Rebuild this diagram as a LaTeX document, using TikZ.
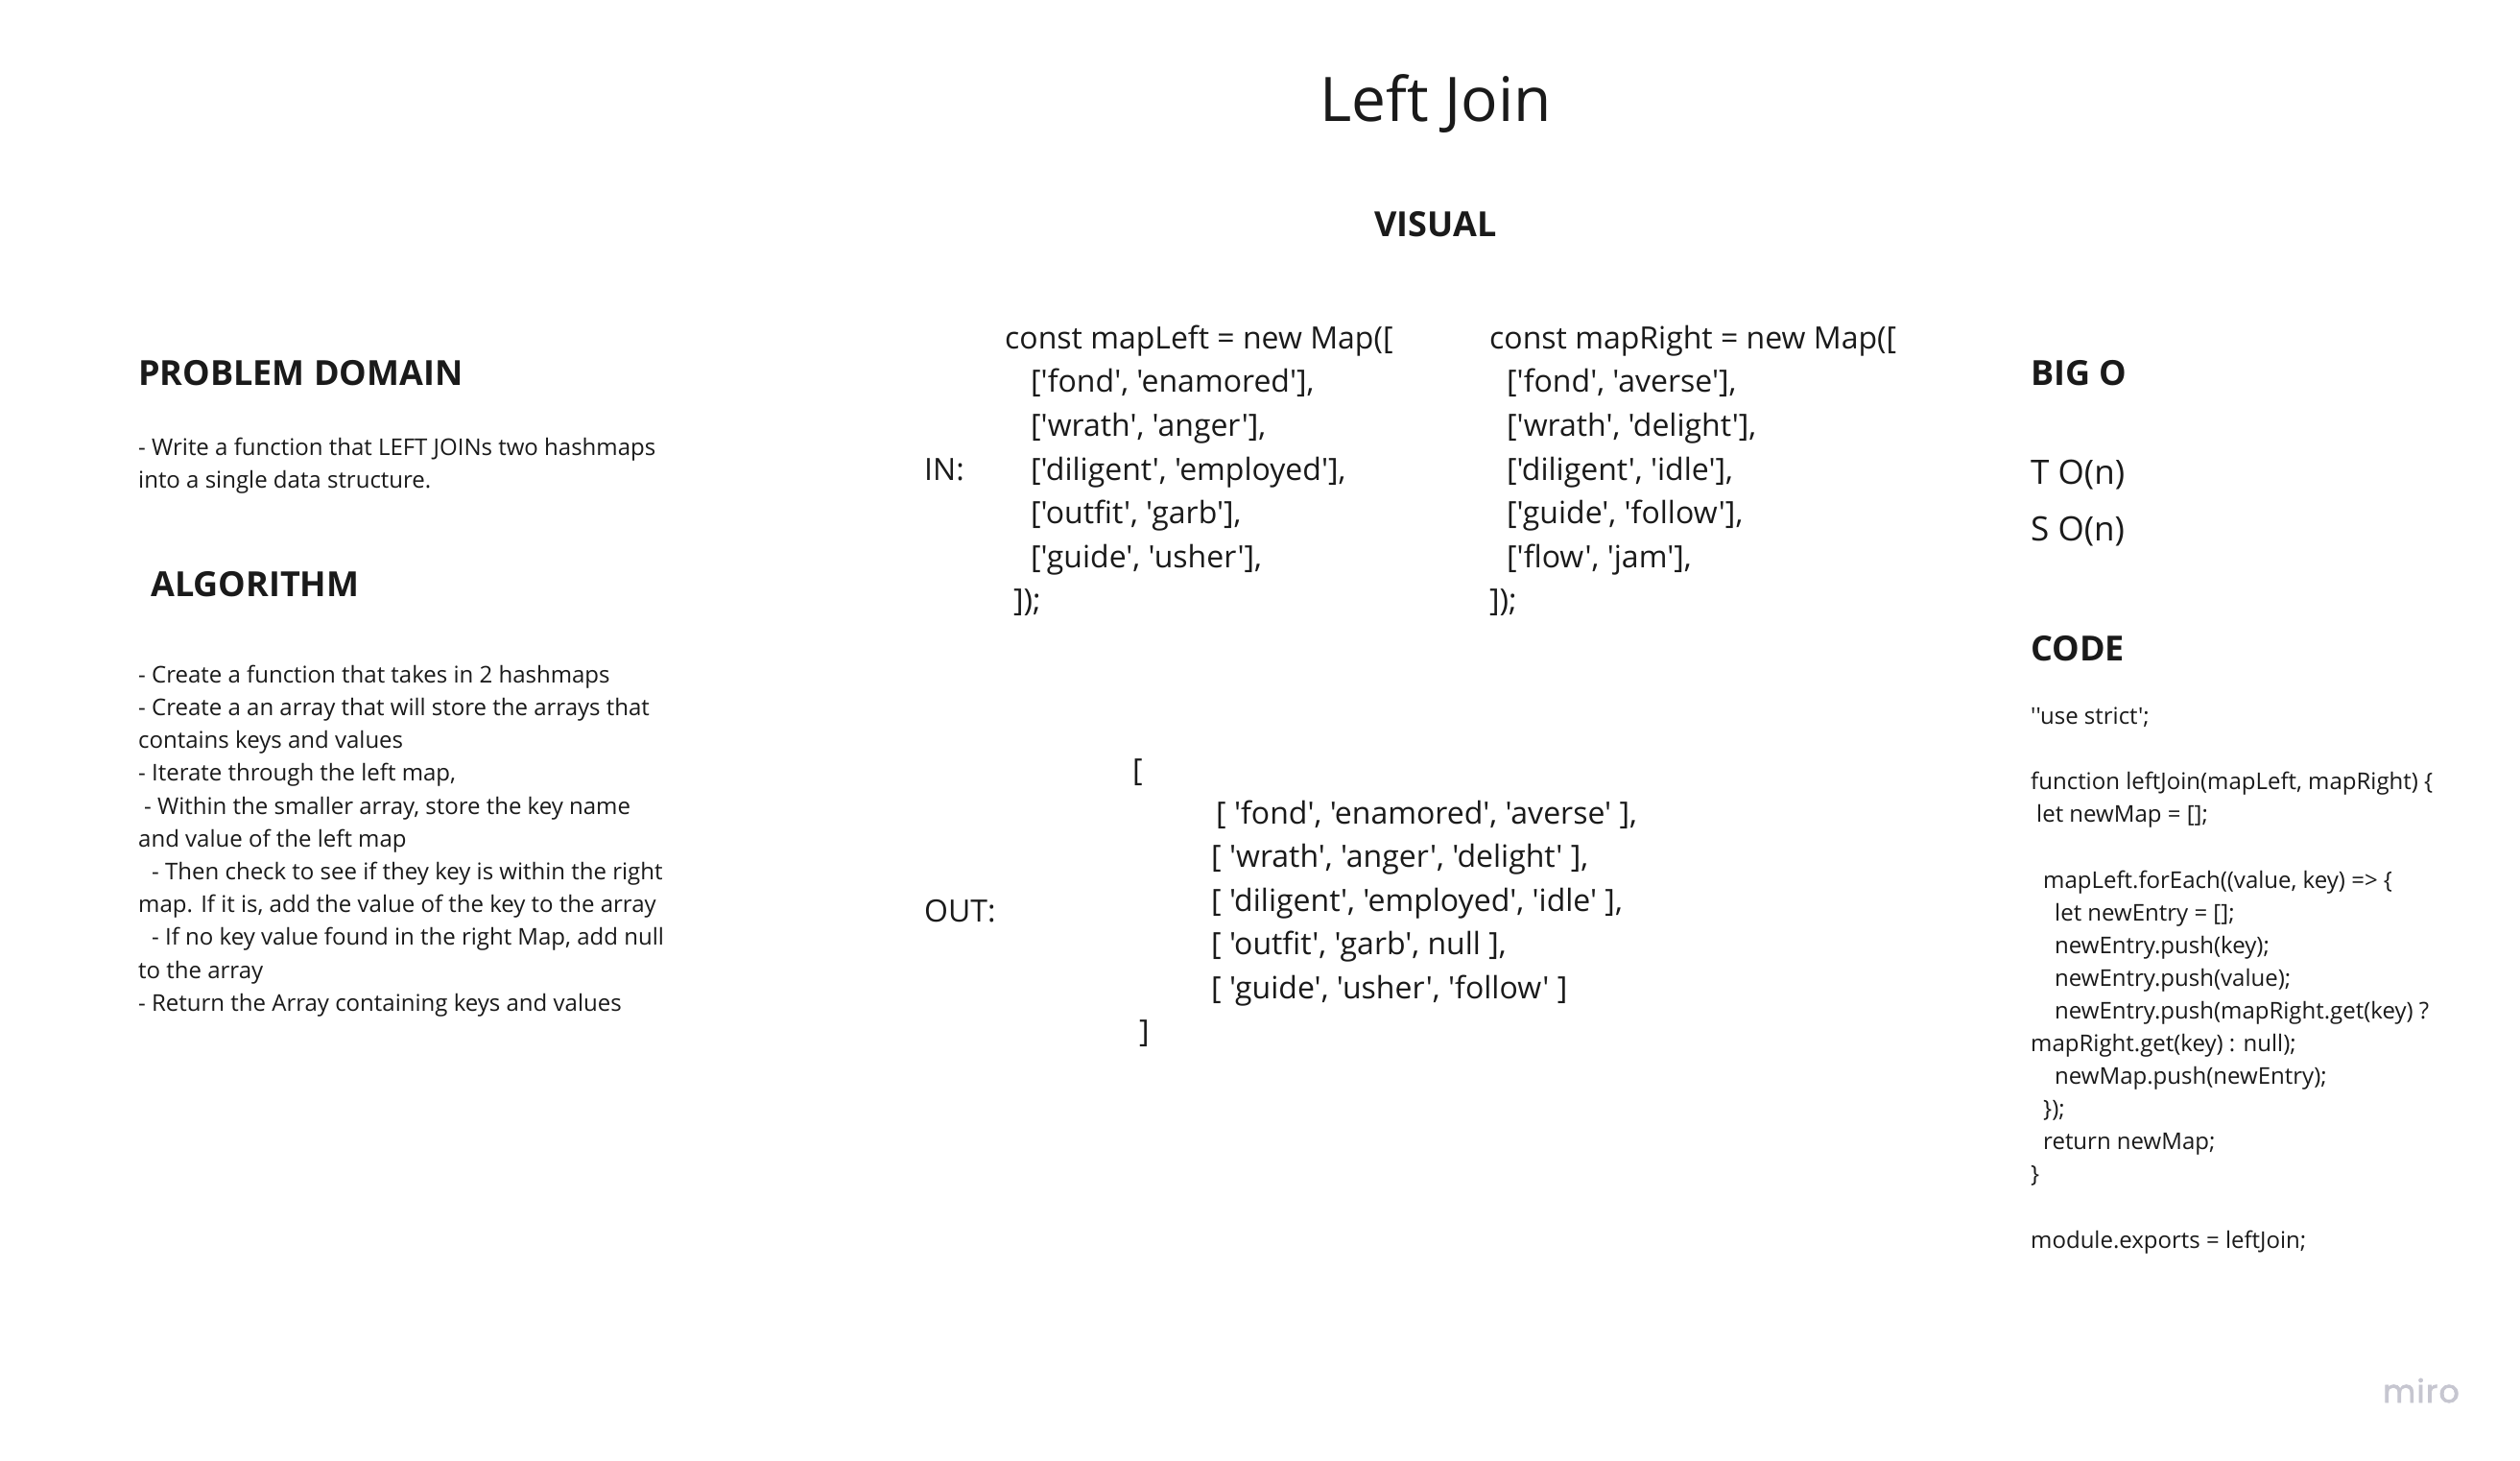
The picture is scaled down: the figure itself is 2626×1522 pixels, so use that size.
\documentclass[tikz,border=0pt]{standalone}
\usepackage{fontspec}
\setmainfont{Open Sans}[Ligatures=TeXOff]
\newfontfamily\mirofont{Poppins}[Ligatures=TeXOff, FakeBold=2.2, LetterSpace=4]

\definecolor{ink}{HTML}{1A1A1A}
\definecolor{mirogray}{HTML}{C6C6D0}

\begin{document}
\begin{tikzpicture}[x=1pt, y=-1pt,
        every node/.style={inner sep=0pt, text=ink, anchor=base west},
        bigtitle/.style={font=\fontsize{64}{70}\selectfont, anchor=base},
        headtext/.style={font=\fontsize{36}{40}\selectfont\bfseries},
        bodytext/.style={font=\fontsize{24}{30}\selectfont},
        maptext/.style={font=\fontsize{32}{38}\selectfont},
        bigotext/.style={font=\fontsize{35}{40}\selectfont}]
        \fill[white] (0,0) rectangle (2626,1522);
        \useasboundingbox (0,0) rectangle (2626,1522);

        \node[bigtitle] (title) at (1496,127) {Left Join};
        \node[headtext, anchor=base] (visual) at (1496,247) {VISUAL};

        \node[headtext] (domain) at (144,401) {PROBLEM DOMAIN};
        \node[bodytext] (dom1) at (144,474) {- Write a function that LEFT JOINs two hashmaps};
        \node[bodytext] (dom2) at (144,508) {into a single data structure.};

        \node[headtext] (algo) at (157,621) {ALGORITHM};
        \node[bodytext] (alg1) at (144,711) {- Create a function that takes in 2 hashmaps};
        \node[bodytext] (alg2) at (144,745) {- Create a an array that will store the arrays that};
        \node[bodytext] (alg3) at (144,779) {contains keys and values};
        \node[bodytext] (alg4) at (144,813) {- Iterate through the left map,};
        \node[bodytext] (alg5) at (150,848) {- Within the smaller array, store the key name};
        \node[bodytext] (alg6) at (144,882) {and value of the left map};
        \node[bodytext] (alg7) at (158,916) {- Then check to see if they key is within the right};
        \node[bodytext] (alg8) at (144,950) {map. If it is, add the value of the key to the array};
        \node[bodytext] (alg9) at (158,984) {- If no key value found in the right Map, add null};
        \node[bodytext] (alg10) at (144,1019) {to the array};
        \node[bodytext] (alg11) at (144,1053) {- Return the Array containing keys and values};

        \node[maptext] (in) at (963,500) {IN:};
        \node[maptext] (left0) at (1047,363) {const mapLeft = new Map([};
        \node[maptext] (left1) at (1074,408) {['fond', 'enamored'],};
        \node[maptext] (left2) at (1074,454) {['wrath', 'anger'],};
        \node[maptext] (left3) at (1074,500) {['diligent', 'employed'],};
        \node[maptext] (left4) at (1074,545) {['outfit', 'garb'],};
        \node[maptext] (left5) at (1074,591) {['guide', 'usher'],};
        \node[maptext] (left6) at (1056,636) {]);};

        \node[maptext] (right0) at (1552,363) {const mapRight = new Map([};
        \node[maptext] (right1) at (1570,408) {['fond', 'averse'],};
        \node[maptext] (right2) at (1570,454) {['wrath', 'delight'],};
        \node[maptext] (right3) at (1570,500) {['diligent', 'idle'],};
        \node[maptext] (right4) at (1570,545) {['guide', 'follow'],};
        \node[maptext] (right5) at (1570,591) {['flow', 'jam'],};
        \node[maptext] (right6) at (1552,636) {]);};

        \node[maptext] (out) at (963,960) {OUT:};
        \node[maptext] (open) at (1180,813) {[};
        \node[maptext] (out1) at (1267,858) {[ 'fond', 'enamored', 'averse' ],};
        \node[maptext] (out2) at (1262,903) {[ 'wrath', 'anger', 'delight' ],};
        \node[maptext] (out3) at (1262,949) {[ 'diligent', 'employed', 'idle' ],};
        \node[maptext] (out4) at (1262,994) {[ 'outfit', 'garb', null ],};
        \node[maptext] (out5) at (1262,1040) {[ 'guide', 'usher', 'follow' ]};
        \node[maptext] (close) at (1187,1085) {]};

        \node[headtext] (bigo) at (2116,401) {BIG O};
        \node[bigotext] (time) at (2116,504) {T O(n)};
        \node[bigotext] (space) at (2116,563) {S O(n)};

        \node[headtext] (code) at (2116,688) {CODE};
        \node[bodytext] (code0) at (2116,754) {''use strict';};
        \node[bodytext] (code2) at (2116,822) {function leftJoin(mapLeft, mapRight) \{};
        \node[bodytext] (code3) at (2122,856) {let newMap = [];};
        \node[bodytext] (code5) at (2129,925) {mapLeft.forEach((value, key) => \{};
        \node[bodytext] (code6) at (2141,959) {let newEntry = [];};
        \node[bodytext] (code7) at (2141,993) {newEntry.push(key);};
        \node[bodytext] (code8) at (2141,1027) {newEntry.push(value);};
        \node[bodytext] (code9) at (2141,1061) {newEntry.push(mapRight.get(key) ?};
        \node[bodytext] (code10) at (2116,1095) {mapRight.get(key) : null);};
        \node[bodytext] (code11) at (2141,1129) {newMap.push(newEntry);};
        \node[bodytext] (code12) at (2129,1163) {\});};
        \node[bodytext] (code13) at (2129,1197) {return newMap;};
        \node[bodytext] (code14) at (2116,1231) {\}};
        \node[bodytext] (code16) at (2116,1300) {module.exports = leftJoin;};

        \node[font=\mirofont\fontsize{33}{40}\selectfont, text=mirogray] (miro) at (2483,1461) {miro};
\end{tikzpicture}
\end{document}
